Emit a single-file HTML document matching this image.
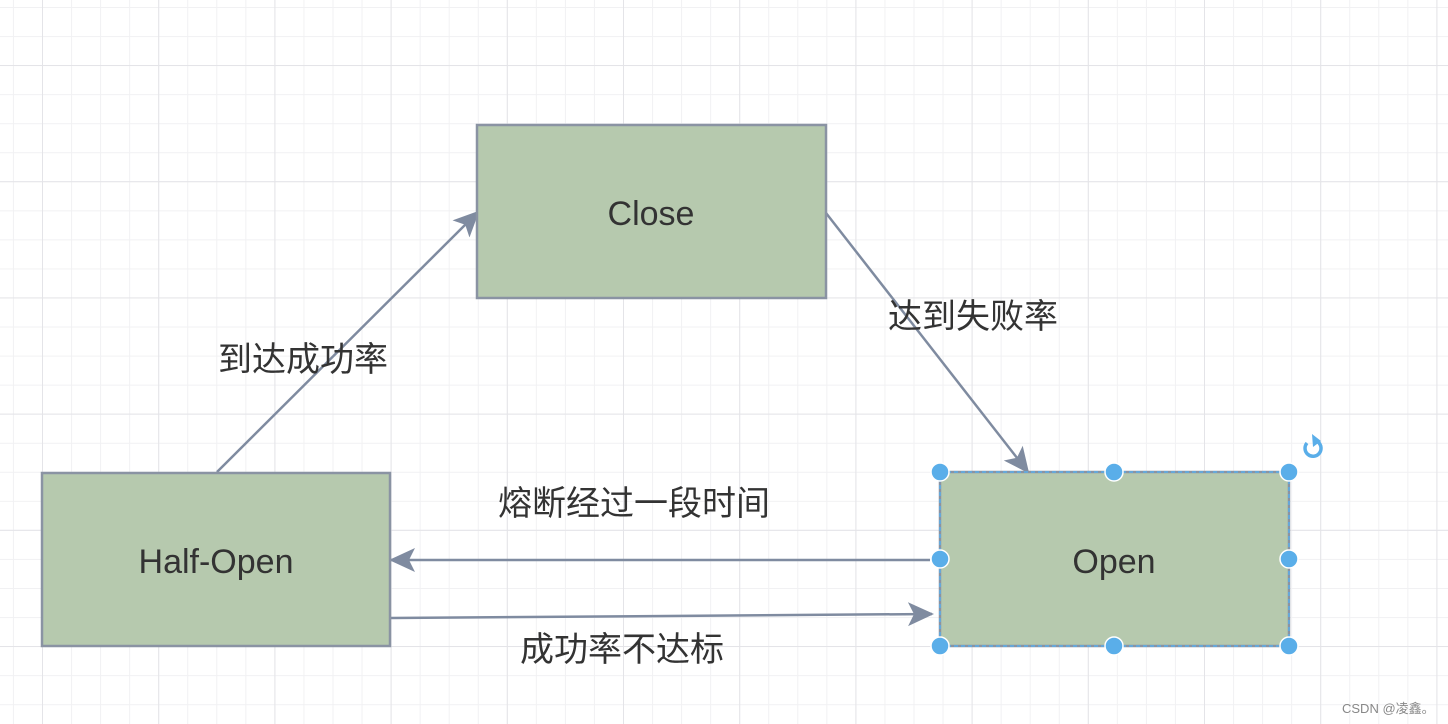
<!DOCTYPE html>
<html><head><meta charset="utf-8"><style>
html,body{margin:0;padding:0;background:#fff;}
svg{display:block;}
text{font-family:"Liberation Sans","Noto Sans CJK SC",sans-serif;fill:#333;}
</style></head><body>
<svg width="1448" height="724" viewBox="0 0 1448 724" xmlns="http://www.w3.org/2000/svg">
<defs>
<pattern id="minor" x="12.95" y="7" width="29.05" height="29.05" patternUnits="userSpaceOnUse">
<path d="M0 0V29.05M0 0H29.05" stroke="#f1f1f3" stroke-width="2" fill="none"/>
</pattern>
<pattern id="major" x="42" y="65" width="116.2" height="116.2" patternUnits="userSpaceOnUse">
<path d="M0 0V116.2M0 0H116.2" stroke="#e4e4e8" stroke-width="2" fill="none"/>
</pattern>
<marker id="ah" viewBox="0 0 26 26" refX="24" refY="13" markerWidth="26" markerHeight="26" markerUnits="userSpaceOnUse" orient="auto">
<path d="M0 1 L26 13 L0 25 L6 13 Z" fill="#7f8ba0"/>
</marker>
</defs>
<rect width="1448" height="724" fill="url(#minor)"/>
<rect width="1448" height="724" fill="url(#major)"/>

<g stroke="#7f8ba0" stroke-width="2.5" fill="none">
<line x1="217" y1="472" x2="478" y2="212" marker-end="url(#ah)"/>
<line x1="826" y1="213" x2="1028" y2="472" marker-end="url(#ah)"/>
<line x1="930" y1="560" x2="391" y2="560" marker-end="url(#ah)"/>
<line x1="391" y1="618" x2="932" y2="614" marker-end="url(#ah)"/>
</g>

<g stroke="#8a93a3" stroke-width="2.5" fill="#b6c9ae">
<rect x="477" y="125" width="349" height="173"/>
<rect x="42" y="473" width="348" height="173"/>
<rect x="940" y="472" width="349" height="174"/>
</g>
<rect x="940" y="472" width="349" height="174" fill="none" stroke="#5aaee9" stroke-width="1.5" stroke-dasharray="4 3"/>

<g font-size="34" text-anchor="middle">
<text x="651" y="225">Close</text>
<text x="216" y="573">Half-Open</text>
<text x="1114" y="573">Open</text>
</g>
<g font-size="34">
<text x="218" y="371">到达成功率</text>
<text x="888" y="328">达到失败率</text>
<text x="498" y="515">熔断经过一段时间</text>
<text x="520" y="661">成功率不达标</text>
</g>

<g fill="#5aaee9" stroke="#fff" stroke-width="1.5">
<circle cx="940" cy="472" r="9"/><circle cx="1114" cy="472" r="9"/><circle cx="1289" cy="472" r="9"/>
<circle cx="940" cy="559" r="9"/><circle cx="1289" cy="559" r="9"/>
<circle cx="940" cy="646" r="9"/><circle cx="1114" cy="646" r="9"/><circle cx="1289" cy="646" r="9"/>
</g>
<path d="M1318 442 A8 8 0 1 1 1307 443" fill="none" stroke="#5aaee9" stroke-width="3.5"/>
<path d="M1312 434 L1321 441 L1313 447 Z" fill="#5aaee9"/>

<text x="1342" y="713" font-size="13" style="fill:#888">CSDN @凌鑫。</text>
</svg>
</body></html>
